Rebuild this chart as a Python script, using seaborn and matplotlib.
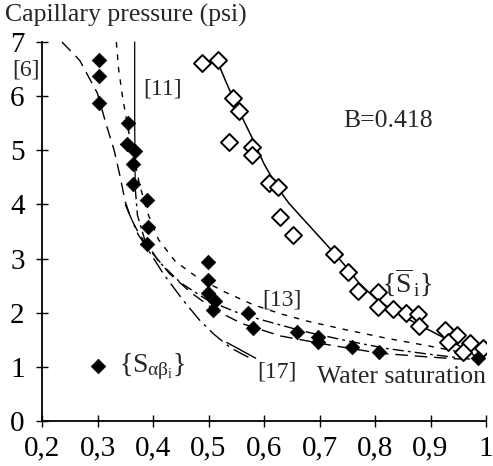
import numpy as np
import pandas as pd
import matplotlib
matplotlib.use("Agg")
import matplotlib.pyplot as plt
import seaborn as sns

# ---------------- data ----------------
# filled diamonds {S_alpha beta_i}
filled_x = [0.303, 0.303, 0.303, 0.355, 0.353, 0.368, 0.364, 0.364, 0.389, 0.391, 0.389,
            0.499, 0.499, 0.499, 0.512, 0.508, 0.571, 0.580, 0.659, 0.697, 0.697,
            0.759, 0.807, 0.986]
filled_y = [6.66, 6.37, 5.87, 5.50, 5.11, 4.98, 4.74, 4.37, 4.08, 3.58, 3.27,
            2.93, 2.60, 2.36, 2.21, 2.05, 1.99, 1.72, 1.64, 1.55, 1.46,
            1.37, 1.27, 1.16]

# open diamonds {S_i}
open_x = [0.488, 0.517, 0.544, 0.555, 0.537, 0.578, 0.578, 0.609, 0.625, 0.629, 0.652,
          0.726, 0.751, 0.770, 0.805, 0.805, 0.832, 0.856, 0.877, 0.879,
          0.926, 0.948, 0.931, 0.971, 0.958, 0.994]
open_y = [6.62, 6.66, 5.96, 5.72, 5.15, 5.06, 4.91, 4.39, 4.32, 3.76, 3.43,
          3.08, 2.75, 2.41, 2.38, 2.10, 2.06, 2.00, 1.97, 1.75,
          1.68, 1.59, 1.46, 1.44, 1.27, 1.34]

# solid fitted curve through {S_i}
fit_x = [0.517, 0.530, 0.545, 0.560, 0.580, 0.600, 0.625, 0.645, 0.668, 0.700, 0.730,
         0.752, 0.771, 0.800, 0.830, 0.860, 0.890, 0.920, 0.950, 0.975, 0.990]
fit_y = [6.62, 6.30, 5.95, 5.62, 5.20, 4.75, 4.30, 4.02, 3.76, 3.40, 3.06,
         2.80, 2.55, 2.27, 2.06, 1.88, 1.72, 1.56, 1.40, 1.24, 1.12]

# model curves
c6_x = [0.236, 0.268, 0.300, 0.315, 0.330, 0.340, 0.350, 0.360, 0.373, 0.395, 0.430,
        0.470, 0.510, 0.560, 0.630, 0.720, 0.810, 0.900, 0.990]
c6_y = [7.00, 6.66, 6.05, 5.50, 5.00, 4.55, 4.05, 3.75, 3.49, 3.15, 2.72,
        2.36, 2.06, 1.80, 1.57, 1.40, 1.25, 1.18, 1.12]

c11_x = [0.367, 0.367, 0.368, 0.372, 0.385, 0.410, 0.450, 0.500, 0.560, 0.620, 0.670,
         0.750, 0.820, 0.900, 0.990]
c11_y = [7.00, 5.50, 4.30, 3.80, 3.35, 2.95, 2.55, 2.22, 1.97, 1.80, 1.66,
         1.48, 1.34, 1.23, 1.12]

c13_x = [0.334, 0.338, 0.345, 0.355, 0.365, 0.375, 0.390, 0.410, 0.440, 0.480, 0.530,
         0.580, 0.630, 0.680, 0.750, 0.820, 0.900, 0.960, 0.990]
c13_y = [7.00, 6.50, 6.00, 5.40, 4.90, 4.40, 3.85, 3.35, 2.95, 2.65, 2.38,
         2.15, 1.98, 1.84, 1.68, 1.53, 1.38, 1.26, 1.15]

c17_x = [0.350, 0.373, 0.395, 0.420, 0.455, 0.485, 0.510, 0.540, 0.575]
c17_y = [4.00, 3.45, 3.10, 2.70, 2.22, 1.85, 1.60, 1.35, 1.16]

xticks = [0.2, 0.3, 0.4, 0.5, 0.6, 0.7, 0.8, 0.9, 1.0]
xtick_labels = ["0,2", "0,3", "0,4", "0,5", "0,6", "0,7", "0,8", "0,9", "1"]
yticks = [0, 1, 2, 3, 4, 5, 6, 7]

# ---------------- style ----------------
sns.set_theme(style="ticks")
plt.rcParams["font.family"] = ["Liberation Serif", "DejaVu Serif"]
plt.rcParams["mathtext.fontset"] = "custom"
plt.rcParams["mathtext.rm"] = "Liberation Serif"
plt.rcParams["mathtext.it"] = "Liberation Serif"
plt.rcParams["mathtext.bf"] = "Liberation Serif:bold"

FS = 18.5
TFS = 21
BFS = 17
fig = plt.figure(figsize=(4.93, 4.66), dpi=100)
ax = fig.add_axes([42 / 493, 1 - 421 / 466, (486 - 42) / 493, (421 - 42) / 466])
ax.set_facecolor("white")

def curve(x, y, ls, lw=1.0):
    df = pd.DataFrame({"x": x, "y": y})
    sns.lineplot(data=df, x="x", y="y", ax=ax, color="black", sort=False,
                 estimator=None, linestyle=ls, linewidth=lw, clip_on=False)

curve(c6_x, c6_y, (0, (9, 5)))
curve(c11_x[:3], c11_y[:3], "-", 0.9)
curve(c11_x[2:], c11_y[2:], (0, (8, 3, 2, 3)))
curve(c13_x, c13_y, (0, (4, 5)))
curve(c17_x, c17_y, (0, (12, 4, 2, 4)))
curve(fit_x, fit_y, "-", 1.1)

sns.scatterplot(x=open_x, y=open_y, ax=ax, marker="D", s=75, facecolor="white",
                edgecolor="black", linewidth=1.4, zorder=3)
sns.scatterplot(x=filled_x, y=filled_y, ax=ax, marker="D", s=55, color="black",
                edgecolor="black", linewidth=0.5, zorder=4)
# legend-like marker
sns.scatterplot(x=[0.301], y=[1.01], ax=ax, marker="D", s=55, color="black",
                edgecolor="black", linewidth=0.5, zorder=4)

ax.set_xlim(0.2, 1.0)
ax.set_ylim(0, 7)
ax.set_xticks(xticks)
ax.set_xticklabels(xtick_labels)
ax.set_yticks(yticks)
ax.set_xlabel("")
ax.set_ylabel("")
for s in ["top", "right"]:
    ax.spines[s].set_visible(False)
for s in ["left", "bottom"]:
    ax.spines[s].set_linewidth(1.3)
    ax.spines[s].set_color("black")
ax.tick_params(direction="inout", length=9, width=1.0, labelsize=TFS, colors="black")
ax.tick_params(axis="x", pad=6)
ax.tick_params(axis="y", pad=8)

# annotations
ax.text(0.1465, 6.48, "[6]", fontsize=BFS, ha="left", va="center", clip_on=False)
ax.text(0.382, 6.13, "[11]", fontsize=BFS, ha="left", va="center")
ax.text(0.596, 2.23, "[13]", fontsize=BFS, ha="left", va="center")
ax.text(0.587, 0.90, "[17]", fontsize=BFS, ha="left", va="center")
ax.plot([0.533, 0.585], [1.45, 1.16], color="black", lw=1.0)
ax.text(0.742, 5.55, "B=0.418", fontsize=FS, ha="left", va="center")
ax.text(0.812, 2.55, r"$\{\overline{S}_{\,\mathrm{i}}\}$", fontsize=20, ha="left", va="center")
ax.text(0.338, 1.0, r"$\{S_{\alpha\beta_\mathrm{i}}\}$", fontsize=20, ha="left", va="center")
ax.text(1.0, 0.81, "Water saturation", fontsize=FS, ha="right", va="center")
fig.text(5 / 493, 1 - 15 / 466, "Capillary pressure (psi)", fontsize=FS, ha="left", va="center")

fig.savefig("out.png", dpi=100, facecolor="white")
